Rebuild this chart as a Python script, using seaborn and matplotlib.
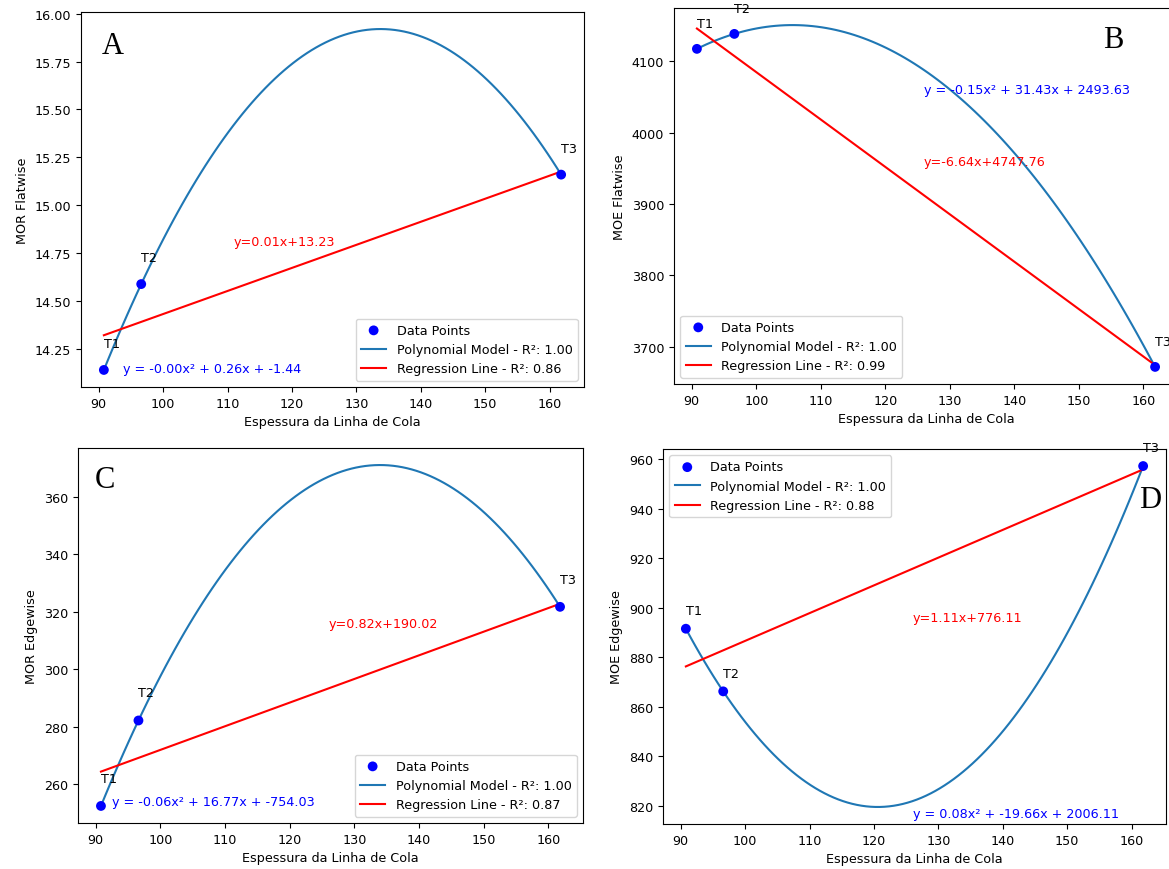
import matplotlib
matplotlib.use("Agg")
import matplotlib.pyplot as plt
import seaborn as sns
import numpy as np

# ---- data ----
thickness = [90.8, 96.6, 161.8]
point_labels = ["T1", "T2", "T3"]
mor_flatwise = [14.141, 14.589, 15.16]
moe_flatwise = [4117.6, 4138.6, 3671.4]
mor_edgewise = [252.5, 282.2, 321.7]
moe_edgewise = [891.6, 866.3, 957.3]

ylabels = ["MOR Flatwise", "MOE Flatwise", "MOR Edgewise", "MOE Edgewise"]
panel_letters = ["A", "B", "C", "D"]
poly_eqs = ["y = -0.00x² + 0.26x + -1.44",
            "y = -0.15x² + 31.43x + 2493.63",
            "y = -0.06x² + 16.77x + -754.03",
            "y = 0.08x² + -19.66x + 2006.11"]
reg_eqs = ["y=0.01x+13.23", "y=-6.64x+4747.76", "y=0.82x+190.02", "y=1.11x+776.11"]
poly_r2 = [1.00, 1.00, 1.00, 1.00]
reg_r2 = [0.86, 0.99, 0.87, 0.88]
xlabel = "Espessura da Linha de Cola"

series = [mor_flatwise, moe_flatwise, mor_edgewise, moe_edgewise]

# layout / style
FS = 9.2
positions = [
    [81 / 1169, 1 - 388 / 870, 503 / 1169, 375 / 870],
    [674 / 1169, 1 - 385 / 870, 504 / 1169, 376 / 870],
    [78 / 1169, 1 - 824 / 870, 505 / 1169, 375 / 870],
    [663 / 1169, 1 - 825 / 870, 503 / 1169, 375 / 870],
]
legend_locs = ["lower right", "lower left", "lower right", "upper left"]
poly_eq_pos = [(93.8, 14.15), (126.0, 4060), (92.5, 254.0), (126.0, 817.0)]
reg_eq_pos = [(111.0, 14.81), (126.0, 3960), (126.0, 316.0), (126.0, 896.0)]
letter_pos = [(0.042, 0.91), (0.852, 0.915), (0.034, 0.915), (0.946, 0.865)]
label_dy = [19, 18, 20, 13]

fig = plt.figure(figsize=(11.69, 8.70), dpi=100)

for i, y in enumerate(series):
    ax = fig.add_axes(positions[i])
    sns.scatterplot(x=thickness, y=y, ax=ax, color="blue", s=50,
                    edgecolor="none", label="Data Points", zorder=3)
    sns.regplot(x=thickness, y=y, ax=ax, order=2, ci=None, scatter=False,
                color="#1f77b4", line_kws={"lw": 1.5},
                label=f"Polynomial Model - R²: {poly_r2[i]:.2f}")
    sns.regplot(x=thickness, y=y, ax=ax, order=1, ci=None, scatter=False,
                color="red", line_kws={"lw": 1.5},
                label=f"Regression Line - R²: {reg_r2[i]:.2f}")
    for xv, yv, lab in zip(thickness, y, point_labels):
        ax.annotate(lab, (xv, yv), xytext=(0, label_dy[i]),
                    textcoords="offset points", ha="left", va="center",
                    fontsize=FS, annotation_clip=False)
    ax.text(*poly_eq_pos[i], poly_eqs[i], color="blue", fontsize=FS, va="center")
    ax.text(*reg_eq_pos[i], reg_eqs[i], color="red", fontsize=FS, va="center")
    ax.text(*letter_pos[i], panel_letters[i], transform=ax.transAxes,
            fontsize=22, family="Liberation Serif", va="center", ha="left")
    ax.set_xlabel(xlabel, fontsize=FS)
    ax.set_ylabel(ylabels[i], fontsize=FS)
    ax.tick_params(labelsize=FS)
    ax.set_xticks([90, 100, 110, 120, 130, 140, 150, 160])
    ax.legend(loc=legend_locs[i], fontsize=FS)

fig.savefig("out.png", dpi=100)
